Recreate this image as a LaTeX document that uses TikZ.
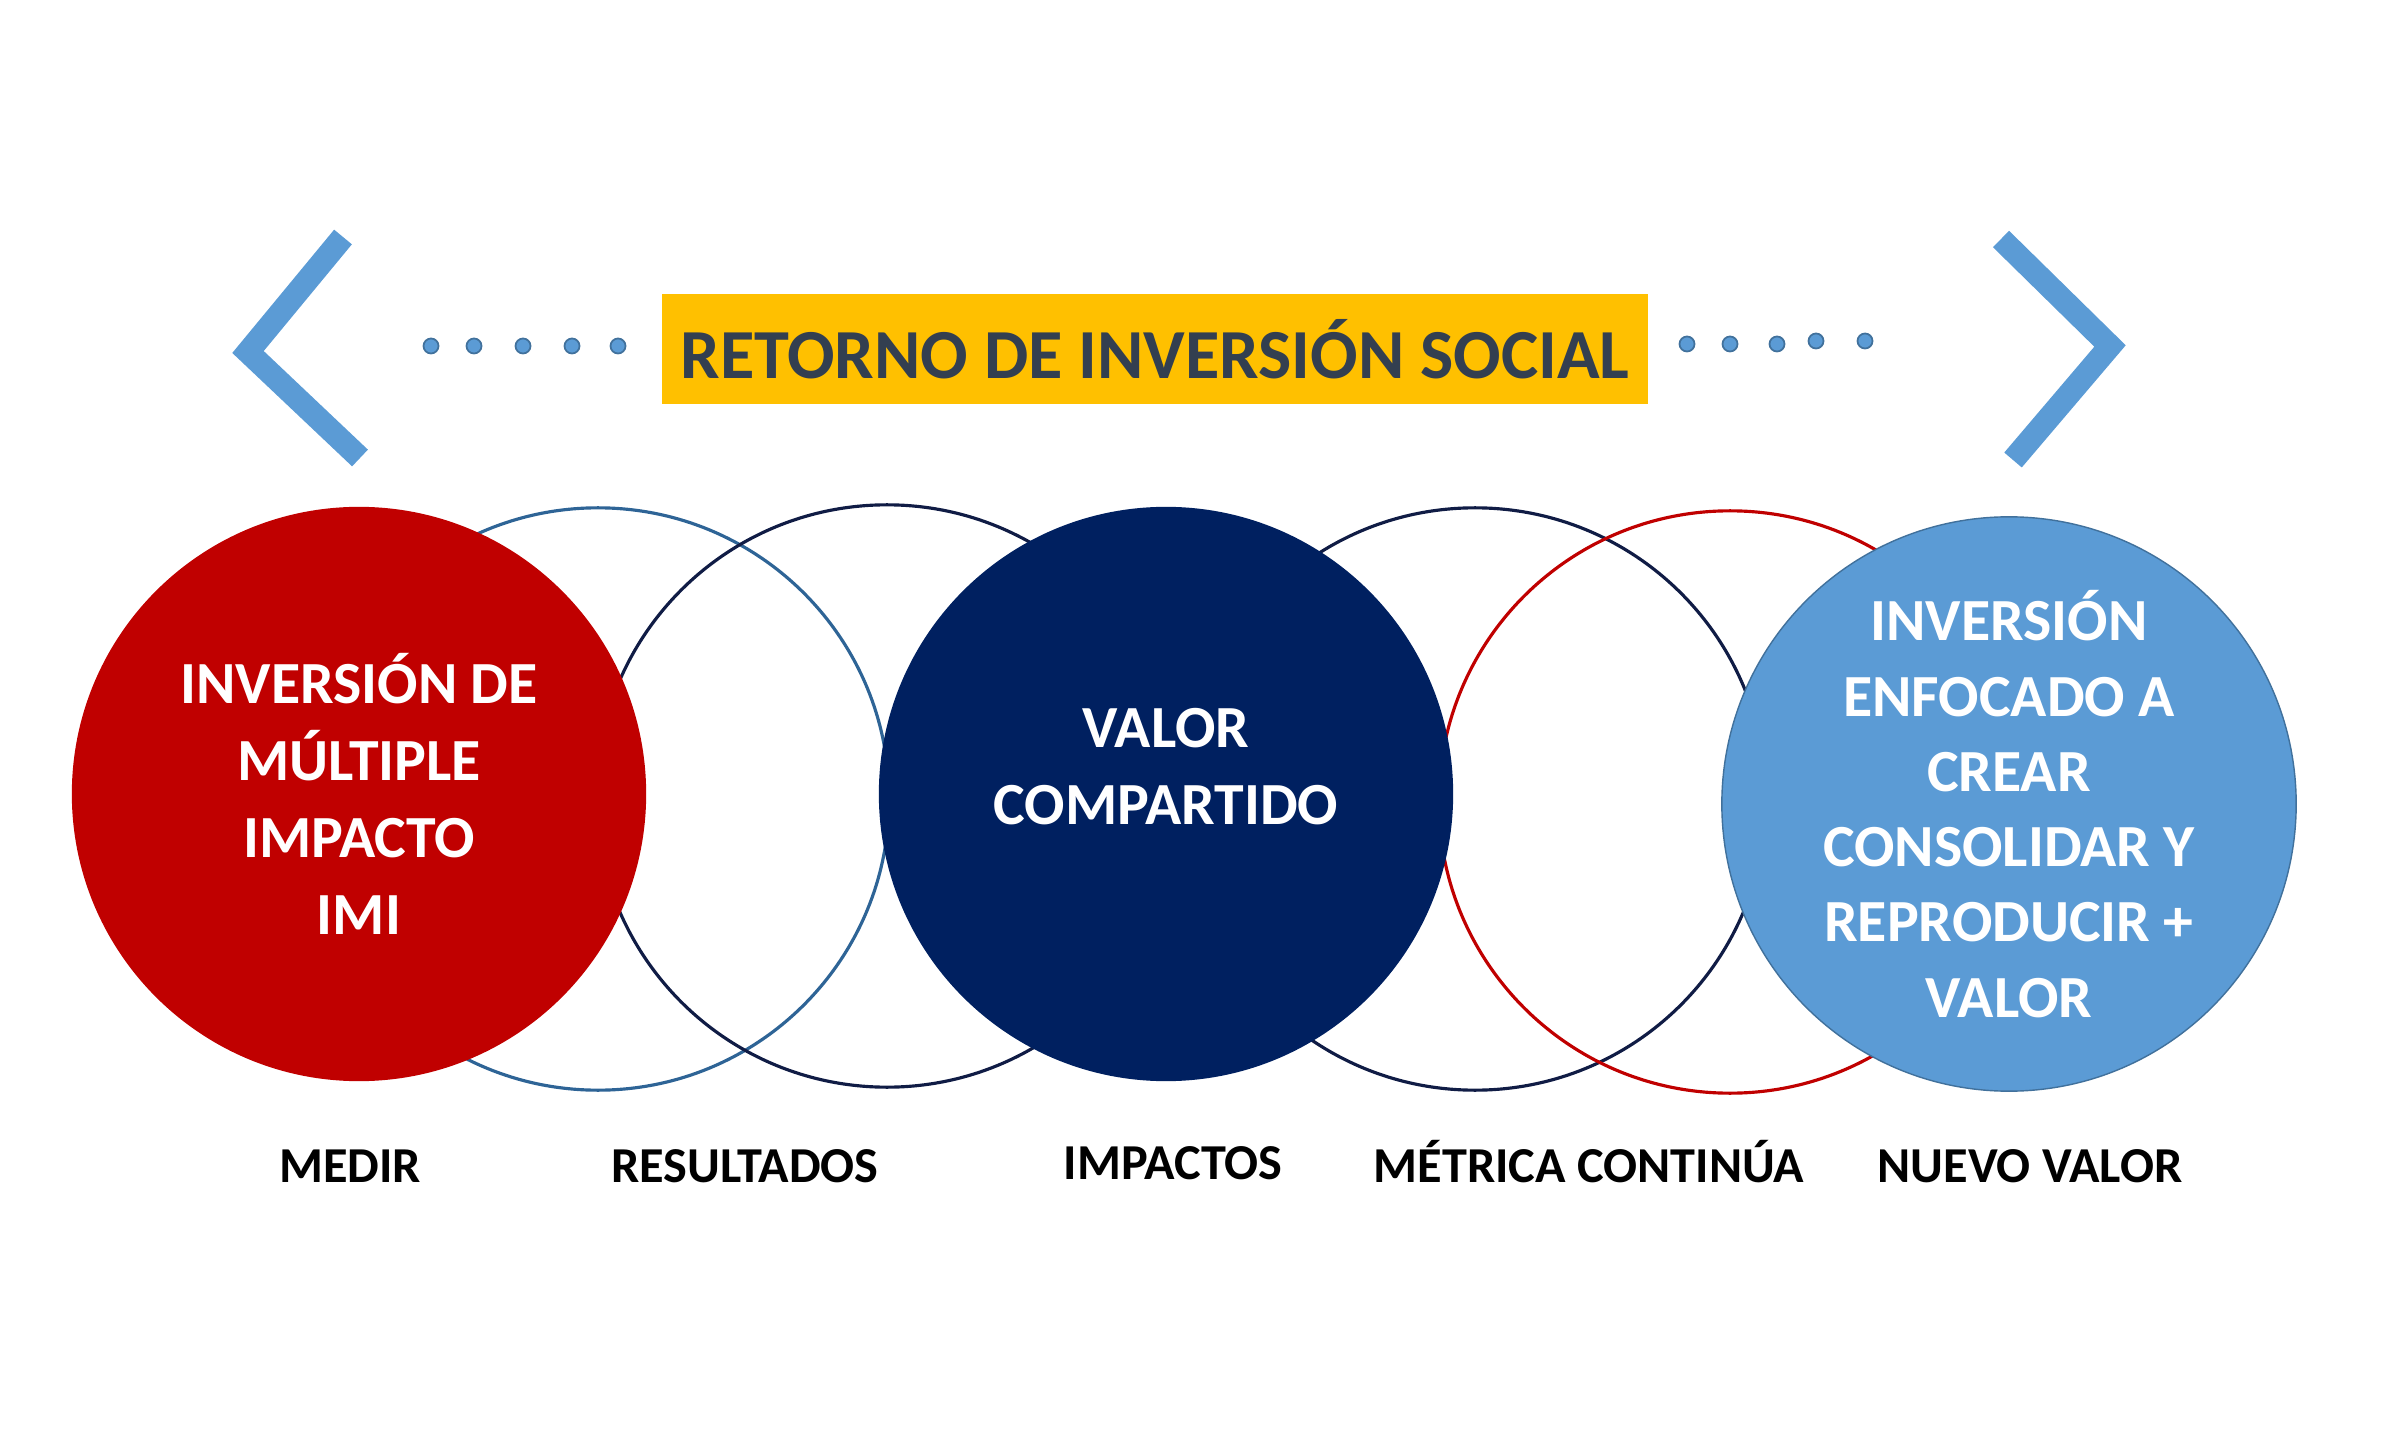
\documentclass[tikz,border=0pt]{standalone}
\usepackage{fontspec}
\setmainfont{Carlito}
\usetikzlibrary{positioning}
\definecolor{rojo}{HTML}{C00000}
\definecolor{marino}{HTML}{002060}
\definecolor{celeste}{HTML}{5B9BD5}
\definecolor{celesteborde}{HTML}{41719C}
\definecolor{oro}{HTML}{FFC000}
\definecolor{pizarra}{HTML}{333F50}
\definecolor{acero}{HTML}{2E6496}
\definecolor{noche}{HTML}{101C45}
\tikzset{
  ring/.style={circle, draw=#1, line width=0.9pt, minimum size=5.82cm, inner sep=0pt},
  disc/.style={circle, fill=#1, minimum size=5.74cm, inner sep=0pt},
  circtext/.style={text=white, align=center, font=\bfseries\fontsize{17}{21.9}\selectfont},
  paso/.style={font=\bfseries\fontsize{14.3}{16}\selectfont, anchor=base, text=black},
  punto/.style={circle, fill=celeste, draw=celesteborde, line width=0.5pt, minimum size=0.15cm, inner sep=0pt},
  chevron/.style={draw=celeste, line width=0.23cm, line join=miter}
}
\begin{document}
\begin{tikzpicture}[x=0.01cm, y=-0.01cm]
\useasboundingbox (0,0) rectangle (2400,1440);
% Chevrons on both ends
\draw[chevron] (343,237) -- (248,352) -- (360,458);
\draw[chevron] (2001,239) -- (2110,346) -- (2013,460);
% Title banner
\node[fill=oro, minimum width=9.85cm, minimum height=1.1cm, inner sep=0pt, text=pizarra,
      font=\bfseries\fontsize{20}{22}\selectfont] (titulo) at (1155,349) {RETORNO DE INVERSIÓN SOCIAL};
% Dots left and right of the banner
\foreach \x/\y [count=\i] in {431/346, 474/346, 523/346, 572/346, 618/346}
  \node[punto] (pi\i) at (\x,\y) {};
\foreach \x/\y [count=\i] in {1687/344, 1730/344, 1777/344, 1816/341, 1865/341}
  \node[punto] (pd\i) at (\x,\y) {};
% Empty rings, they go behind the discs
\node[ring=acero] (ra) at (598,799) {};
\node[ring=noche] (rb) at (887,796) {};
\node[ring=noche] (rc) at (1475,799) {};
\node[ring=rojo] (rd) at (1730,802) {};
% Filled discs
\node[disc=rojo, circtext] (imi) at (359,794) {INVERSIÓN DE\\MÚLTIPLE\\IMPACTO\\IMI};
\node[disc=marino] (valor) at (1166,794) {};
\node[circtext] (valortxt) at ([yshift=0.275cm]valor.center) {VALOR\\COMPARTIDO};
\node[disc=celeste, draw=celesteborde, line width=0.4pt, circtext,
      font=\bfseries\fontsize{17}{21.4}\selectfont] (nuevo) at (2009,804)
  {INVERSIÓN\\ENFOCADO A\\CREAR\\CONSOLIDAR Y\\REPRODUCIR +\\VALOR};
% Step labels under the circles
\node[paso] (medir) at (350,1182) {MEDIR};
\node[paso] (result) at (745,1182) {RESULTADOS};
\node[paso] (impact) at (1173,1179) {IMPACTOS};
\node[paso] (metrica) at (1589,1182) {MÉTRICA CONTINÚA};
\node[paso] (nvalor) at (2030,1182) {NUEVO VALOR};
\end{tikzpicture}
\end{document}
